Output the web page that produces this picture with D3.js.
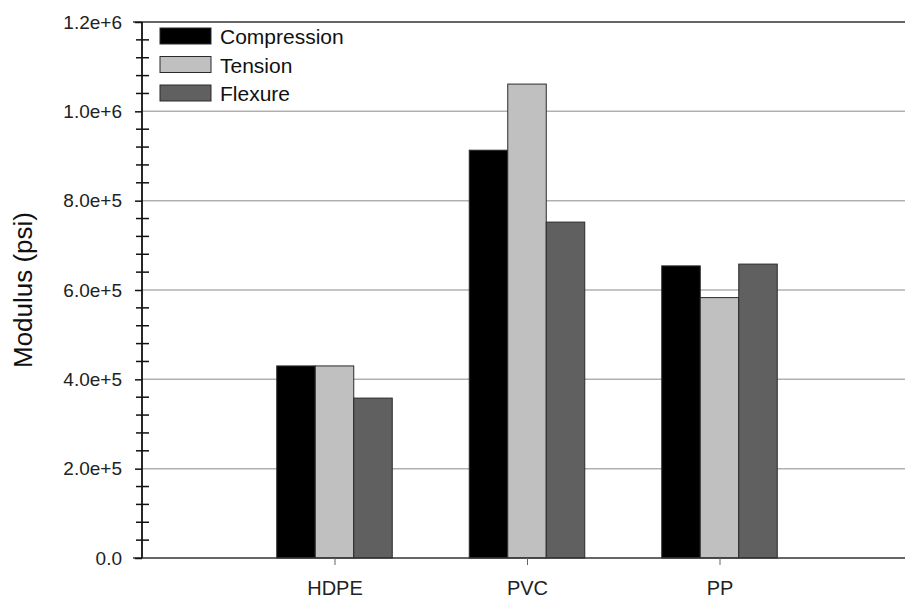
<!DOCTYPE html>
<html>
<head>
<meta charset="utf-8">
<script src="https://cdn.jsdelivr.net/npm/d3@7"></script>
<style>
  body { margin: 0; background: #fff; }
  text { font-family: "Liberation Sans", Arial, sans-serif; fill: #111; }
</style>
</head>
<body>
<div id="chart"></div>
<script>
var materials = ["HDPE", "PVC", "PP"]
var seriesNames = ["Compression", "Tension", "Flexure"]
var compression = [430000, 913000, 654000]
var tension = [430000, 1061000, 583000]
var flexure = [358000, 752000, 658000]
var yTicks = [0, 200000, 400000, 600000, 800000, 1000000, 1200000]

var seriesValues = [compression, tension, flexure]
var fills = ["#000000", "#c0c0c0", "#606060"]

var width = 905, height = 600
var plotLeft = 142, plotTop = 22, plotBottom = 558

var svg = d3.select("#chart")
    .append("svg")
    .attr("width", width)
    .attr("height", height)

var x = d3.scaleLinear().domain([0, 4]).range([plotLeft, 912])
var y = d3.scaleLinear().domain([0, 1200000]).range([plotBottom, plotTop])
var barW = x(0.2) - x(0)

// gridlines
svg.append("g").attr("class", "grid")
    .selectAll("line")
    .data(yTicks.filter(function (d) { return d > 0 && d < 1200000 }))
    .enter()
    .append("line")
    .attr("x1", plotLeft).attr("x2", width)
    .attr("y1", function (d) { return y(d) }).attr("y2", function (d) { return y(d) })
    .style("stroke", "#b0b0b0")
    .style("stroke-width", 1.5)

// bars
var rows = []
materials.forEach(function (m, i) {
    seriesValues.forEach(function (vals, j) {
        rows.push({ cat: i + 1, s: j, v: vals[i] })
    })
})
svg.append("g").attr("class", "bars")
    .selectAll("rect")
    .data(rows)
    .enter()
    .append("rect")
    .attr("x", function (d) { return x(d.cat - 0.3 + d.s * 0.2) })
    .attr("y", function (d) { return y(d.v) })
    .attr("width", barW)
    .attr("height", function (d) { return y(0) - y(d.v) })
    .style("fill", function (d) { return fills[d.s] })
    .style("stroke", "#2a2a2a")
    .style("stroke-width", 1)

// frame lines
svg.append("line")
    .attr("x1", 133).attr("x2", width).attr("y1", y(1200000)).attr("y2", y(1200000))
    .style("stroke", "#333").style("stroke-width", 1.5)
svg.append("line")
    .attr("x1", 133).attr("x2", width).attr("y1", y(0)).attr("y2", y(0))
    .style("stroke", "#333").style("stroke-width", 1.5)

// y axis
var fmt = d3.format(".1e")
var yAxis = d3.axisLeft(y)
    .tickValues(yTicks)
    .tickSize(7)
    .tickPadding(13)
    .tickFormat(function (d) { return d === 0 ? "0.0" : fmt(d) })
var gy = svg.append("g").attr("transform", "translate(" + plotLeft + ",0)").call(yAxis)
gy.select(".domain").remove()
gy.selectAll(".tick line").style("stroke", "#111").style("stroke-width", 1.5)
gy.selectAll(".tick text").style("font-size", "19px").style("fill", "#222")

svg.append("g").attr("class", "minor")
    .selectAll("line")
    .data(d3.range(0, 1200001, 40000).filter(function (d) { return d % 200000 !== 0 }))
    .enter()
    .append("line")
    .attr("x1", plotLeft - 6).attr("x2", plotLeft + 7)
    .attr("y1", function (d) { return y(d) }).attr("y2", function (d) { return y(d) })
    .style("stroke", "#111").style("stroke-width", 1.5)

svg.append("line")
    .attr("x1", plotLeft).attr("x2", plotLeft).attr("y1", plotTop).attr("y2", plotBottom)
    .style("stroke", "#111").style("stroke-width", 1.8)

// x axis ticks and labels
var xAxis = d3.axisBottom(x)
    .tickValues([1, 2, 3])
    .tickSize(7)
    .tickPadding(16)
    .tickFormat(function (d) { return materials[d - 1] })
var gx = svg.append("g").attr("transform", "translate(0," + plotBottom + ")").call(xAxis)
gx.select(".domain").remove()
gx.selectAll(".tick line").style("stroke", "#666").style("stroke-width", 1)
gx.selectAll(".tick text").style("font-size", "20px").style("fill", "#222")

// y label
svg.append("text")
    .attr("transform", "translate(32,290) rotate(-90)")
    .attr("text-anchor", "middle")
    .style("font-size", "26px")
    .text("Modulus (psi)")

// legend
var legend = svg.append("g").attr("class", "legend")
var items = legend.selectAll("g")
    .data(seriesNames)
    .enter()
    .append("g")
    .attr("transform", function (d, i) { return "translate(160," + (28 + i * 28.5) + ")" })
items.append("rect")
    .attr("width", 51).attr("height", 16)
    .style("fill", function (d, i) { return fills[i] })
    .style("stroke", "#2a2a2a")
    .style("stroke-width", 1)
items.append("text")
    .attr("x", 60).attr("y", 16)
    .style("font-size", "21px")
    .text(function (d) { return d })
</script>
</body>
</html>
